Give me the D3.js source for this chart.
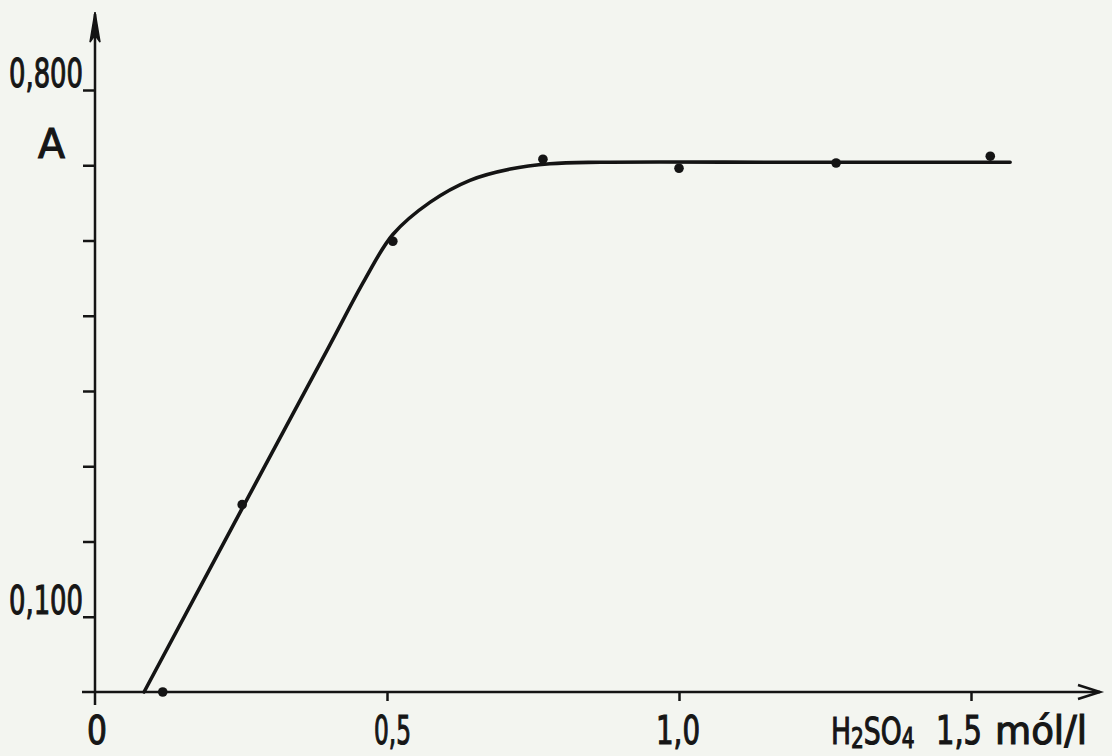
<!DOCTYPE html>
<html>
<head>
<meta charset="utf-8">
<script src="https://cdn.jsdelivr.net/npm/d3@7"></script>
<style>
  body { margin: 0; background: #f3f5f0; }
  svg { display: block; }
  text { font-family: "DejaVu Sans", sans-serif; fill: #161616; stroke: #161616; stroke-width: 1.2px; }
</style>
</head>
<body>
<script>
// measured points (H2SO4 mol/l, absorbance)
var concX = [0.116, 0.252, 0.510, 0.767, 1.000, 1.269, 1.533];
var absY  = [0.000, 0.249, 0.599, 0.708, 0.696, 0.703, 0.712];

// hand drawn fitting curve
var curveX = [0.084, 0.25, 0.40, 0.462, 0.510, 0.574, 0.642, 0.711, 0.779, 0.865, 1.20, 1.567];
var curveY = [0.000, 0.241, 0.458, 0.548, 0.608, 0.651, 0.680, 0.695, 0.702, 0.704, 0.704, 0.704];

var yTicks = [0.1, 0.2, 0.3, 0.4, 0.5, 0.6, 0.7, 0.8];
var yLabelled = [0.1, 0.8];
var xTicks = [0.5, 1.0, 1.5];
var xTickLabels = ["0,5", "1,0", "1,5"];
var xUnit = "mól/l";

var width = 1112, height = 756;

var x = d3.scaleLinear().domain([0, 1]).range([95, 679]);
var y = d3.scaleLinear().domain([0, 0.8]).range([692, 90]);

var svg = d3.select("body").append("svg")
  .attr("width", width)
  .attr("height", height);

var ink = "#141414";

// y axis ticks
var yAxis = d3.axisLeft(y)
  .tickValues(yTicks)
  .tickSize(12)
  .tickFormat("");
var gy = svg.append("g")
  .attr("transform", "translate(" + x(0) + ",0)")
  .call(yAxis);
gy.select(".domain").remove();
gy.selectAll(".tick line").attr("stroke", ink).attr("stroke-width", 2.5);

// x axis ticks
var xAxis = d3.axisBottom(x)
  .tickValues(xTicks)
  .tickSize(9)
  .tickFormat("");
var gx = svg.append("g")
  .attr("transform", "translate(0," + y(0) + ")")
  .call(xAxis);
gx.select(".domain").remove();
gx.selectAll(".tick line").attr("stroke", ink).attr("stroke-width", 2.5);

// axis lines with arrows
svg.append("line")
  .attr("x1", x(0)).attr("y1", y(0) + 13)
  .attr("x2", x(0)).attr("y2", 14)
  .attr("stroke", ink).attr("stroke-width", 2.5);
svg.append("path")
  .attr("d", "M" + x(0) + ",12 L" + (x(0) - 5) + ",42 L" + x(0) + ",35 L" + (x(0) + 5) + ",42 Z")
  .attr("fill", ink).attr("stroke", ink).attr("stroke-width", 1.5);

svg.append("line")
  .attr("x1", x(0) - 13).attr("y1", y(0))
  .attr("x2", 1100).attr("y2", y(0))
  .attr("stroke", ink).attr("stroke-width", 2.5);
svg.append("path")
  .attr("d", "M1078," + (y(0) - 7) + " L1100," + y(0) + " L1078," + (y(0) + 7))
  .attr("fill", "none").attr("stroke", ink).attr("stroke-width", 2.5);

// y labels
svg.selectAll(".ylab")
  .data(yLabelled)
  .enter().append("text")
  .attr("class", "ylab")
  .attr("x", 9)
  .attr("y", function(d) { return y(d) - 3; })
  .attr("textLength", 74)
  .attr("lengthAdjust", "spacingAndGlyphs")
  .style("font-size", "39px")
  .text(function(d) { return d3.format(".3f")(d).replace(".", ","); });

svg.append("text")
  .attr("x", 38).attr("y", 158)
  .attr("textLength", 27)
  .attr("lengthAdjust", "spacingAndGlyphs")
  .style("font-size", "41px")
  .text("A");

// x labels
svg.append("text")
  .attr("x", 87).attr("y", 744)
  .attr("textLength", 20)
  .attr("lengthAdjust", "spacingAndGlyphs")
  .style("font-size", "39px")
  .text("0");

var xLabStart = [374, 656, 936];
var xLabLen = [37, 44, 46];
svg.selectAll(".xlab")
  .data(xTicks)
  .enter().append("text")
  .attr("class", "xlab")
  .attr("x", function(d, i) { return xLabStart[i]; })
  .attr("y", 744)
  .attr("textLength", function(d, i) { return xLabLen[i]; })
  .attr("lengthAdjust", "spacingAndGlyphs")
  .style("font-size", "39px")
  .text(function(d, i) { return xTickLabels[i]; });

svg.append("text")
  .attr("x", 995).attr("y", 744)
  .attr("textLength", 92)
  .attr("lengthAdjust", "spacingAndGlyphs")
  .style("font-size", "39px")
  .text(xUnit);

var h2 = svg.append("text")
  .attr("transform", "translate(831,744) scale(0.72,1)")
  .style("font-size", "37px");
h2.append("tspan").text("H");
h2.append("tspan").attr("dy", 4).style("font-size", "28px").text("2");
h2.append("tspan").attr("dy", -4).text("SO");
h2.append("tspan").attr("dy", 4).style("font-size", "28px").text("4");

// curve
var line = d3.line()
  .x(function(d) { return x(d[0]); })
  .y(function(d) { return y(d[1]); })
  .curve(d3.curveCatmullRom.alpha(0.5));

svg.append("path")
  .datum(d3.zip(curveX, curveY))
  .attr("d", line)
  .attr("fill", "none")
  .attr("stroke", ink)
  .attr("stroke-width", 3.6)
  .attr("stroke-linecap", "round");

// points
svg.selectAll(".pt")
  .data(d3.zip(concX, absY))
  .enter().append("circle")
  .attr("class", "pt")
  .attr("cx", function(d) { return x(d[0]); })
  .attr("cy", function(d) { return y(d[1]); })
  .attr("r", 4.8)
  .attr("fill", ink);
</script>
</body>
</html>
